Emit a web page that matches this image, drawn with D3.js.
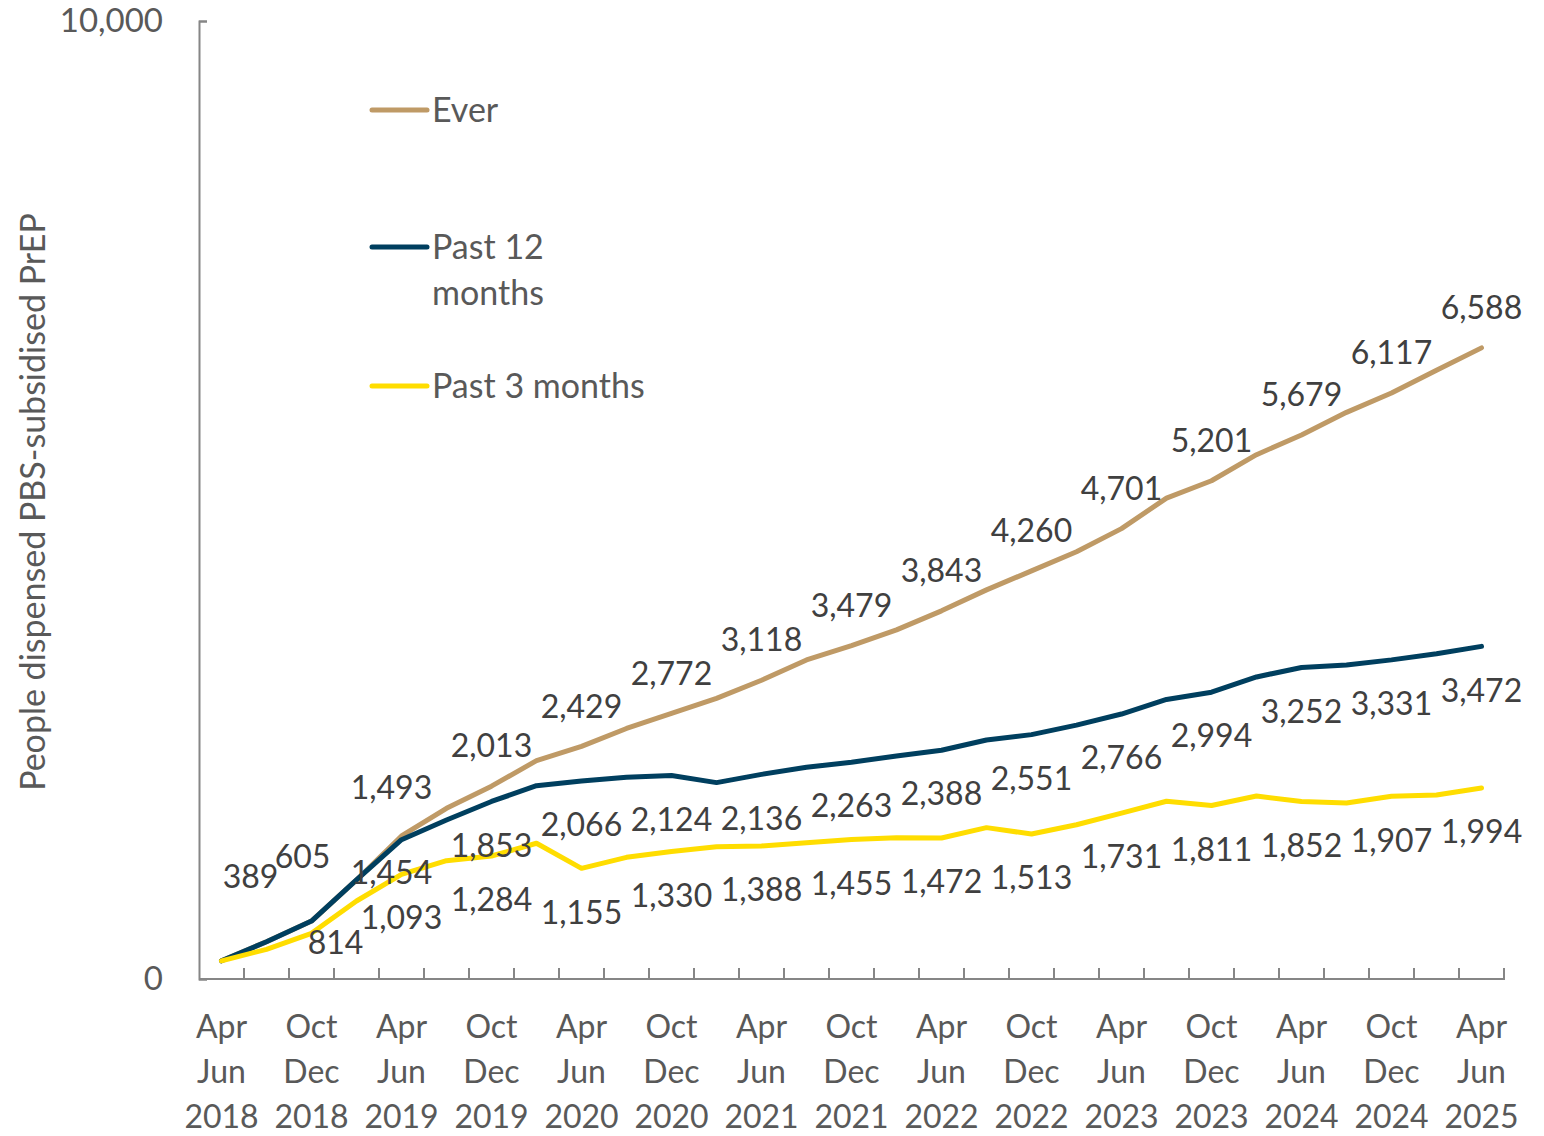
<!DOCTYPE html>
<html>
<head>
<meta charset="utf-8">
<script src="https://cdn.jsdelivr.net/npm/d3@7"></script>
<style>
  body { margin: 0; background: #fff; }
  text { font-family: Lato, "Open Sans", sans-serif; }
</style>
</head>
<body>
<div id="chart"></div>
<script>
// quarters, Apr-Jun 2018 .. Apr-Jun 2025
const quarters = [
  "Apr Jun 2018", "Jul Sep 2018", "Oct Dec 2018", "Jan Mar 2019",
  "Apr Jun 2019", "Jul Sep 2019", "Oct Dec 2019", "Jan Mar 2020",
  "Apr Jun 2020", "Jul Sep 2020", "Oct Dec 2020", "Jan Mar 2021",
  "Apr Jun 2021", "Jul Sep 2021", "Oct Dec 2021", "Jan Mar 2022",
  "Apr Jun 2022", "Jul Sep 2022", "Oct Dec 2022", "Jan Mar 2023",
  "Apr Jun 2023", "Jul Sep 2023", "Oct Dec 2023", "Jan Mar 2024",
  "Apr Jun 2024", "Jul Sep 2024", "Oct Dec 2024", "Jan Mar 2025",
  "Apr Jun 2025"
];

const ever = [190, 389, 605, 1034, 1493, 1782, 2013, 2279, 2429, 2615,
  2772, 2930, 3118, 3330, 3479, 3644, 3843, 4062, 4260, 4460,
  4701, 5020, 5201, 5473, 5679, 5915, 6117, 6354, 6588];

const past12 = [190, 389, 605, 1034, 1454, 1660, 1853, 2018, 2066, 2106,
  2124, 2050, 2136, 2210, 2263, 2328, 2388, 2495, 2551, 2650,
  2766, 2918, 2994, 3153, 3252, 3278, 3331, 3396, 3472];

const past3 = [190, 310, 477, 814, 1093, 1235, 1284, 1417, 1155, 1270,
  1330, 1381, 1388, 1423, 1455, 1475, 1472, 1580, 1513, 1610,
  1731, 1855, 1811, 1910, 1852, 1838, 1907, 1921, 1994];

// which points carry a data label
const everLabelIdx = [1, 2, 4, 6, 8, 10, 12, 14, 16, 18, 20, 22, 24, 26, 28];
const past12LabelIdx = [4, 6, 8, 10, 12, 14, 16, 18, 20, 22, 24, 26, 28];
const past3LabelIdx = [3, 4, 6, 8, 10, 12, 14, 16, 18, 20, 22, 24, 26, 28];

const yTicks = [0, 10000];

const W = 1544, H = 1136;
const margin = {top: 21, right: 40, bottom: 157, left: 199};

const series = [
  {name: "Ever", lines: ["Ever"], values: ever, labels: everLabelIdx, color: "#BF9A66", dy: -40},
  {name: "Past 12 months", lines: ["Past 12", "months"], values: past12, labels: past12LabelIdx, color: "#003F5F", dy: 44},
  {name: "Past 3 months", lines: ["Past 3 months"], values: past3, labels: past3LabelIdx, color: "#FFDD00", dy: 44}
];

// hand-moved labels in the original, keyed "series:index"
const nudge = {
  "Ever:1": [-16, -25],
  "Ever:2": [-9, -24],
  "Ever:4": [-10, -8],
  "Past 12 months:4": [-10, -11],
  "Past 3 months:3": [-21, -2]
};

const svg = d3.select("#chart").append("svg")
  .attr("width", W)
  .attr("height", H);

const x = d3.scaleBand()
  .domain(d3.range(quarters.length))
  .range([margin.left, W - margin.right])
  .padding(0);

const y = d3.scaleLinear()
  .domain([0, 10000])
  .range([H - margin.bottom, margin.top]);

const cx = (i) => x(i) + x.bandwidth() / 2;

const axisColor = "#868686";
const textColor = "#595959";

// y axis: line plus ticks at 0 and 10,000 pointing in
const yAxis = svg.append("g")
  .attr("transform", `translate(${margin.left},0)`)
  .call(d3.axisLeft(y).tickValues(yTicks).tickSize(-8).tickPadding(36).tickFormat(d3.format(",")));

// x axis: tick marks between categories
const bounds = d3.range(quarters.length + 1).map((i) => margin.left + i * x.bandwidth());
const xAxis = svg.append("g")
  .attr("transform", `translate(0,${H - margin.bottom})`);
xAxis.append("line")
  .attr("x1", margin.left).attr("x2", W - margin.right + 1)
  .attr("stroke", axisColor).attr("stroke-width", 2);
xAxis.selectAll(".xt").data(bounds.slice(1)).join("line")
  .attr("class", "xt")
  .attr("x1", (d) => d).attr("x2", (d) => d)
  .attr("y1", 0).attr("y2", -11)
  .attr("stroke", axisColor).attr("stroke-width", 2);

yAxis.select(".domain").attr("stroke", axisColor).attr("stroke-width", 2);
yAxis.selectAll(".tick line").attr("stroke", axisColor).attr("stroke-width", 2);
yAxis.selectAll(".tick text")
  .attr("fill", textColor)
  .attr("font-size", 33)
  .attr("font-family", "Lato, 'Open Sans', sans-serif");

// category labels on three lines, every second quarter
const shown = d3.range(0, quarters.length, 2);
const xl = xAxis.selectAll(".xl").data(shown).join("text")
  .attr("class", "xl")
  .attr("fill", textColor)
  .attr("font-size", 32)
  .attr("text-anchor", "middle");
xl.selectAll("tspan").data((i) => quarters[i].split(" ").map((s) => [i, s])).join("tspan")
  .attr("x", (d) => cx(d[0]))
  .attr("y", (d, k) => 48 + k * 45)
  .attr("dy", "0.35em")
  .text((d) => d[1]);

// y axis title
svg.append("text")
  .attr("transform", `translate(33,${(margin.top + H - margin.bottom) / 2 + 2}) rotate(-90)`)
  .attr("text-anchor", "middle")
  .attr("dy", "0.35em")
  .attr("fill", textColor)
  .attr("font-size", 34)
  .text("People dispensed PBS-subsidised PrEP");

// lines
const line = d3.line()
  .x((d, i) => cx(i))
  .y((d) => y(d));

svg.append("g").selectAll("path").data(series).join("path")
  .attr("d", (s) => line(s.values))
  .attr("fill", "none")
  .attr("stroke", (s) => s.color)
  .attr("stroke-width", 5)
  .attr("stroke-linejoin", "round")
  .attr("stroke-linecap", "round");

// data labels
const fmt = d3.format(",");
series.forEach((s) => {
  svg.append("g").selectAll("text").data(s.labels).join("text")
    .attr("x", (i) => cx(i) + (nudge[s.name + ":" + i] || [0, 0])[0])
    .attr("y", (i) => y(s.values[i]) + s.dy + (nudge[s.name + ":" + i] || [0, 0])[1])
    .attr("dy", "0.35em")
    .attr("text-anchor", "middle")
    .attr("fill", "#404040")
    .attr("font-size", 32)
    .text((i) => fmt(s.values[i]));
});

// legend
const legendY = [110, 247, 386];
const legend = svg.append("g").selectAll("g").data(series).join("g")
  .attr("transform", (s, k) => `translate(372,${legendY[k]})`);
legend.append("line")
  .attr("x1", 0).attr("x2", 55)
  .attr("stroke", (s) => s.color)
  .attr("stroke-width", 5)
  .attr("stroke-linecap", "round");
legend.append("text")
  .attr("fill", textColor)
  .attr("font-size", 34)
  .selectAll("tspan").data((s) => s.lines).join("tspan")
  .attr("x", 60)
  .attr("y", (d, k) => k * 46)
  .attr("dy", "0.35em")
  .text((d) => d);
</script>
</body>
</html>
